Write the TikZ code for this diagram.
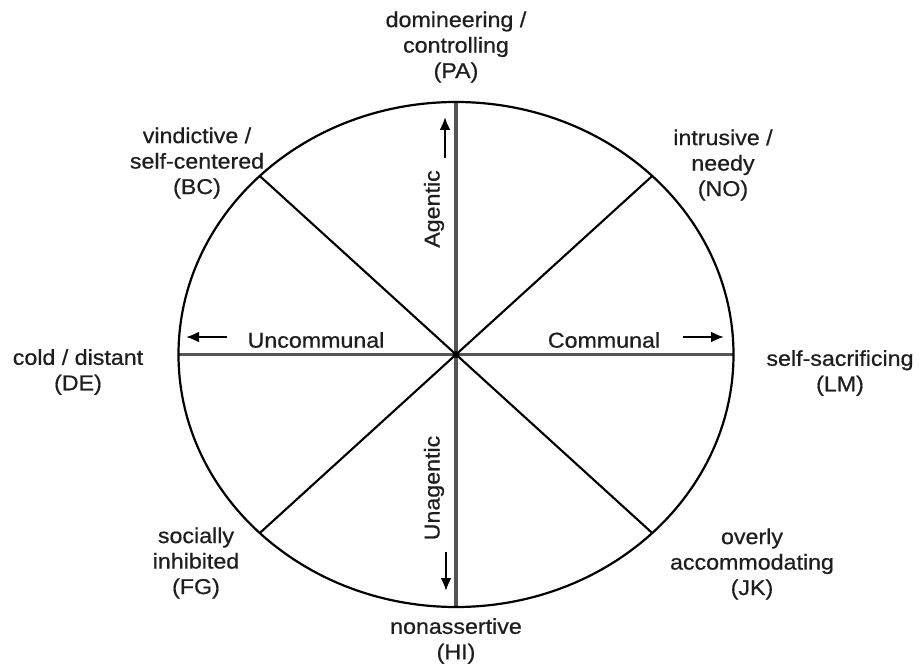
\documentclass[tikz,border=0pt]{standalone}
\usepackage{fontspec}
\setmainfont[FakeStretch=1.08,FakeBold=0.6]{Liberation Sans}
\usetikzlibrary{arrows.meta}
\definecolor{txt}{HTML}{1E1E1E}
\definecolor{axis}{HTML}{555555}
\begin{document}
\begin{tikzpicture}[x=1pt,y=-1pt,
  lbl/.style={text=txt,align=center,font=\fontsize{21.5}{25.5}\selectfont,inner sep=0pt},
  inlbl/.style={text=txt,font=\fontsize{21.5}{25.5}\selectfont,inner sep=0pt},
  axisline/.style={draw=axis,line width=3.3pt},
  diag/.style={draw=black,line width=2.1pt},
  rim/.style={draw=black,line width=2.2pt},
  dirarrow/.style={draw=black,line width=2.2pt,-{Latex[length=13pt,width=11pt]}}]
\useasboundingbox (0,0) rectangle (919,668);
\fill[white] (0,0) rectangle (919,668);
\coordinate (c) at (456,354.5);
\coordinate (N) at (456,102);
\coordinate (S) at (456,607);
\coordinate (W) at (178.5,354.5);
\coordinate (E) at (733.5,354.5);
\coordinate (NW) at (259.8,176);
\coordinate (NE) at (652.2,176);
\coordinate (SW) at (259.8,533);
\coordinate (SE) at (652.2,533);
% diagonals
\draw[diag] (NW) -- (SE);
\draw[diag] (NE) -- (SW);
% axes
\draw[axisline] (N) -- (S);
\draw[axisline] (W) -- (E);
% rim
\draw[rim] (c) ellipse [x radius=277.5, y radius=252.5];
\fill[black] (c) circle (3.5pt);
% outer labels
\node[lbl] (pa) at (456,47) {domineering /\\controlling\\(PA)};
\node[lbl] (bc) at (197,163) {vindictive /\\self-centered\\(BC)};
\node[lbl] (no) at (723,165) {intrusive /\\needy\\(NO)};
\node[lbl] (de) at (78,372) {cold / distant\\(DE)};
\node[lbl] (lm) at (840,373) {self-sacrificing\\(LM)};
\node[lbl] (fg) at (196,563) {socially\\inhibited\\(FG)};
\node[lbl] (jk) at (752,564) {overly\\accommodating\\(JK)};
\node[lbl] (hi) at (456,641) {nonassertive\\(HI)};
% inner labels
\node[inlbl] (unc) at (316,340) {Uncommunal};
\node[inlbl] (com) at (604,340) {Communal};
\node[inlbl,rotate=90] (agt) at (434,209) {Agentic};
\node[inlbl,rotate=90] (unag) at (434,488) {Unagentic};
% arrows
\coordinate (ua1) at (227,337); \coordinate (ua2) at (186,337);
\coordinate (ca1) at (683,337); \coordinate (ca2) at (724,337);
\coordinate (aa1) at (445,158); \coordinate (aa2) at (445,117);
\coordinate (na1) at (446,552); \coordinate (na2) at (446,591);
\draw[dirarrow] (ua1) -- (ua2);
\draw[dirarrow] (ca1) -- (ca2);
\draw[dirarrow] (aa1) -- (aa2);
\draw[dirarrow] (na1) -- (na2);
\end{tikzpicture}
\end{document}
